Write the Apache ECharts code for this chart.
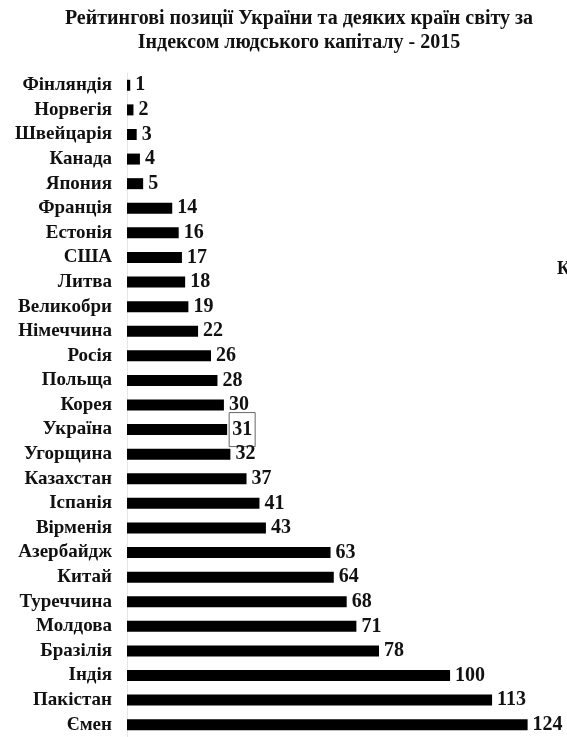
<!DOCTYPE html>
<html><head><meta charset="utf-8">
<script src="https://cdn.jsdelivr.net/npm/echarts@6/dist/echarts.min.js"></script>
<style>html,body{margin:0;padding:0;background:#fff}#c{width:567px;height:737px}</style>
</head><body><div id="c"></div>
<script>
const titleLines = ['Рейтингові позиції України та деяких країн світу за', 'Індексом людського капіталу - 2015'];
const countries = ['Фінляндія','Норвегія','Швейцарія','Канада','Япония','Франція','Естонія','США','Литва','Великобри','Німеччина','Росія','Польща','Корея','Україна','Угорщина','Казахстан','Іспанія','Вірменія','Азербайдж','Китай','Туреччина','Молдова','Бразілія','Індія','Пакістан','Ємен'];
const ranks = [1,2,3,4,5,14,16,17,18,19,22,26,28,30,31,32,37,41,43,63,64,68,71,78,100,113,124];
const highlight = 'Україна';
</script>
<script>
const chart = echarts.init(document.getElementById('c'));
const font = '"Liberation Serif","Times New Roman",serif';
chart.setOption({
  animation:false,
  backgroundColor:'#fff',
  title:{text:titleLines.join('\n'), left:294, textAlign:'center', top:2,
    textStyle:{fontFamily:font,fontWeight:'bold',fontSize:20,lineHeight:24,color:'#111'}},
  graphic:[{type:'text',left:557,top:260,style:{text:'К',font:'bold 18px '+font,fill:'#111'}}],
  grid:{left:127,top:73,height:664,width:420,containLabel:false},
  xAxis:{type:'value',min:0,max:130,show:false},
  yAxis:{type:'category',data:countries,inverse:true,
    axisLine:{show:true,lineStyle:{color:'#e6e6e6',width:1}},
    axisTick:{show:false},
    axisLabel:{interval:0,margin:15,fontFamily:font,fontWeight:'bold',fontSize:19,color:'#111'}},
  series:[{type:'bar',barWidth:11,itemStyle:{color:'#000'},
    data:ranks.map((v,i)=>countries[i]===highlight?{value:v,label:{borderColor:'#666',borderWidth:1,padding:[8,3,6,3],distance:2}}:v),
    label:{show:true,position:'right',distance:5,fontFamily:font,fontWeight:'bold',fontSize:20,color:'#111'}}]
});
</script></body></html>
